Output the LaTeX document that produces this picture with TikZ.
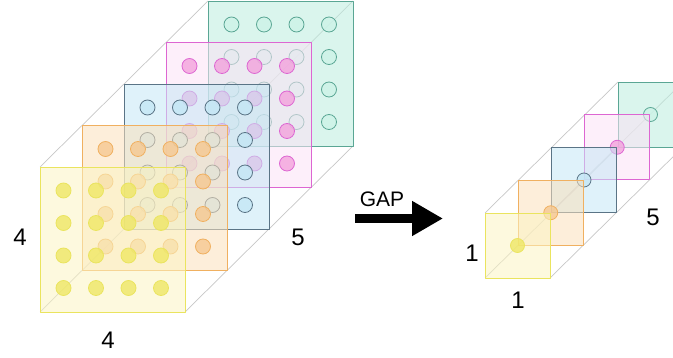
\documentclass[tikz,border=0pt]{standalone}
\usepackage{fontspec}
\setmainfont{Liberation Sans}
\usetikzlibrary{arrows.meta}
\definecolor{eYel}{HTML}{EAE45E}\definecolor{sYel}{HTML}{FBF4C2}\definecolor{dYel}{HTML}{EFE765}
\definecolor{eOra}{HTML}{F0B060}\definecolor{sOra}{HTML}{FBE0BC}\definecolor{dOra}{HTML}{F6C890}
\definecolor{eBlu}{HTML}{5A7486}\definecolor{sBlu}{HTML}{C4E7F5}\definecolor{dBlu}{HTML}{C4E7F5}
\definecolor{eMag}{HTML}{DD66D2}\definecolor{sMag}{HTML}{FCE2F5}\definecolor{dMag}{HTML}{F3A2DD}
\definecolor{eTea}{HTML}{5AA694}\definecolor{sTea}{HTML}{BBEDDE}\definecolor{dTea}{HTML}{CDF3E8}
\begin{document}
\begin{tikzpicture}[x=1pt,y=-1pt,line join=round,font=\fontsize{24}{28}\selectfont,
	box/.style={draw=black!22,line width=0.7pt},
	sheet/.style={draw=e#1,fill=s#1,fill opacity=.55,line width=0.9pt},
	dot/.style={draw=e#1,fill=d#1,fill opacity=.8,line width=0.8pt}]
	\useasboundingbox (0,0) rectangle (673,358);
	% 4x4x5 feature maps
	\foreach \a/\b in {0/0,145/0,0/145,145/145}\draw[box] (40+\a,167+\b)--++(168,-166);
	\foreach \i/\c in {4/Tea,3/Mag,2/Blu,1/Ora,0/Yel}{
		\begin{scope}[shift={(42*\i,-41.5*\i)}]
			\draw[sheet=\c] (40,167) rectangle ++(145,145);
			\foreach \u in {0,...,3}\foreach \v in {0,...,3}\draw[dot=\c] (63.5+32.5*\u,190.5+32.5*\v) circle (7.5pt);
		\end{scope}}
	\node (hL) at (20,237) {4};
	\node (wL) at (108,340) {4};
	\node (dL) at (298,237) {5};
	% pooling arrow
	\coordinate (gapL) at (355,218.5);
	\coordinate (gapR) at (443,218.5);
	\draw[line width=9pt,-{Triangle[length=31pt,width=33pt]}] (gapL)--(gapR);
	\node[font=\fontsize{21}{24}\selectfont] (gap) at (382,199) {GAP};
	% 1x1x5 result
	\foreach \a/\b in {0/0,65/0,0/65,65/65}\draw[box] (485+\a,213+\b)--++(133,-131);
	\foreach \i/\c in {4/Tea,3/Mag,2/Blu,1/Ora,0/Yel}{
		\begin{scope}[shift={(33.25*\i,-32.75*\i)}]
			\draw[sheet=\c] (485,213) rectangle ++(65,65);
			\draw[dot=\c] (517.5,245.5) circle (7pt);
		\end{scope}}
	\node (hR) at (472,253) {1};
	\node (wR) at (518,300) {1};
	\node (dR) at (653,217) {5};
\end{tikzpicture}
\end{document}
